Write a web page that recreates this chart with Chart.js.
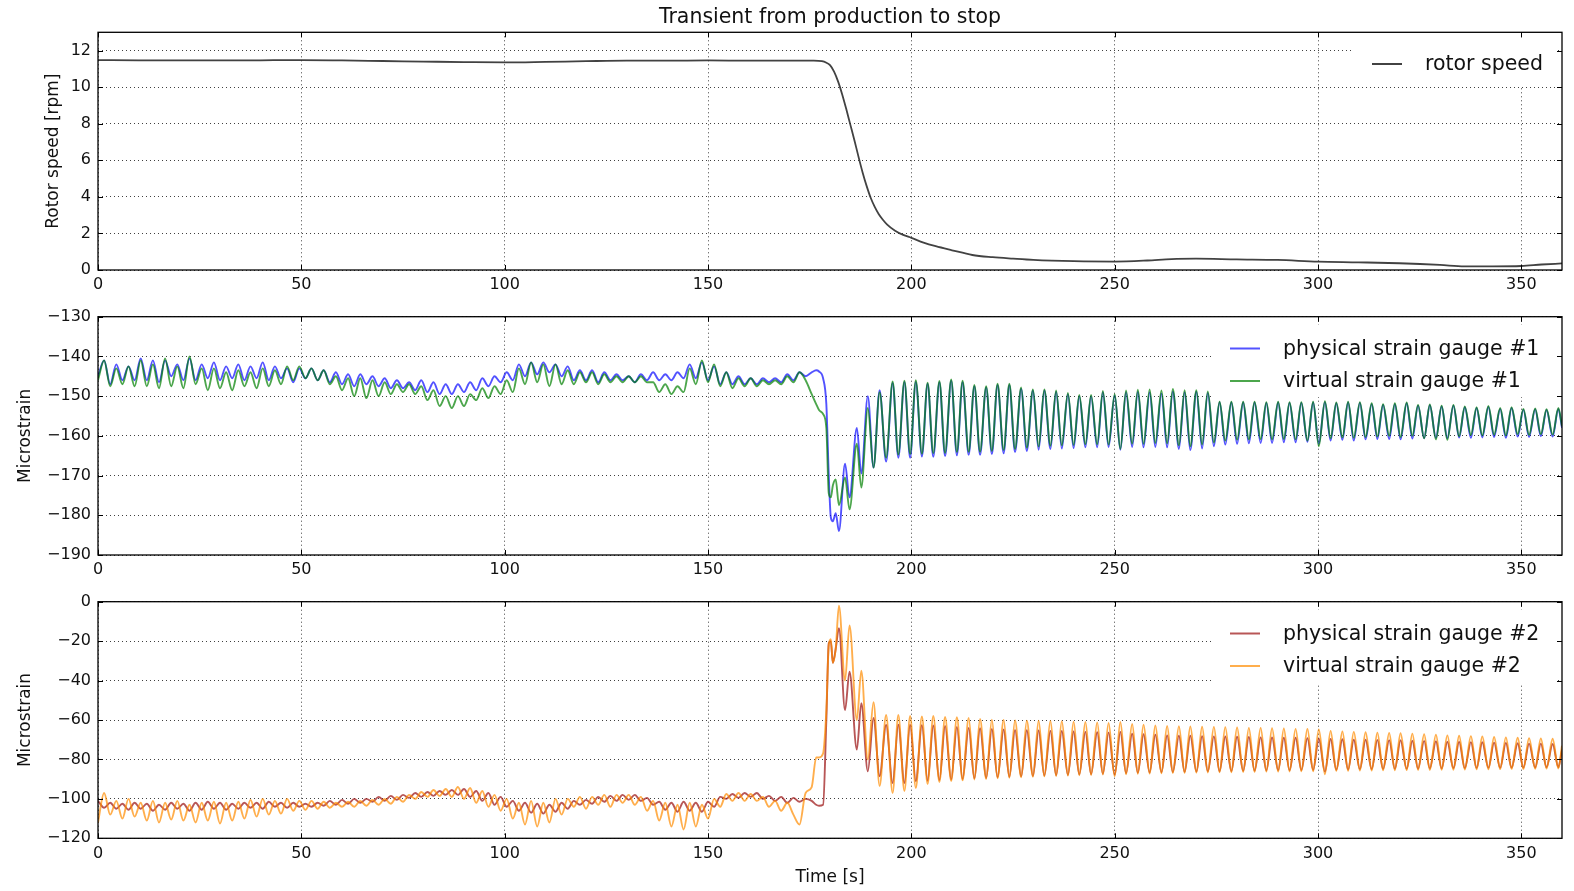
<!DOCTYPE html>
<html lang="en">
<head>
  <meta charset="UTF-8">
  <title>Transient from production to stop</title>
  <script src="https://cdn.jsdelivr.net/npm/chart.js"></script>
  <style>
    body { margin: 0; background: #fff; }
    #wrap { position: relative; width: 1574px; height: 891px; }
    #wrap canvas { position: absolute; left: 0; }
  </style>
</head>
<body>
  <div id="wrap">
    <canvas id="c1" width="1574" height="300" style="top:0"></canvas>
    <canvas id="c2" width="1574" height="285" style="top:300px"></canvas>
    <canvas id="c3" width="1574" height="306" style="top:585px"></canvas>
  </div>

  <script>
    // rotor speed [rpm]
    const tRotor = [0, 10, 20, 30, 40, 50, 60, 70, 80, 90,
      100, 110, 120, 130, 140, 150, 160, 170, 176, 178,
      179, 180, 181, 182, 183, 184, 185, 186, 187, 188,
      189, 190, 191, 192, 193, 194, 196, 198, 200, 203,
      206, 210, 215, 220, 225, 230, 240, 250, 258, 264,
      270, 280, 290, 300, 310, 320, 330, 336, 343, 350,
      355, 360];
    const rotorSpeed = [11.48, 11.47, 11.47, 11.46, 11.47, 11.48, 11.46, 11.43, 11.4, 11.37,
      11.35, 11.38, 11.42, 11.45, 11.45, 11.46, 11.45, 11.45, 11.45, 11.42,
      11.35, 11.2, 10.85, 10.3, 9.6, 8.8, 7.95, 7.1, 6.2, 5.35,
      4.6, 3.95, 3.45, 3.05, 2.75, 2.5, 2.15, 1.92, 1.76, 1.5,
      1.3, 1.08, 0.82, 0.7, 0.62, 0.55, 0.48, 0.46, 0.52, 0.6,
      0.62, 0.58, 0.55, 0.46, 0.42, 0.37, 0.28, 0.2, 0.2, 0.22,
      0.3, 0.36];

    // shared time base of the two strain panels [s]
    const tStrain = [
      0, 1.5, 3, 4.5, 6, 7.5, 9, 10.5, 12, 13.5,
      15, 16.5, 18, 19.5, 21, 22.5, 24, 25.5, 27, 28.5,
      30, 31.5, 33, 34.5, 36, 37.5, 39, 40.5, 42, 43.5,
      45, 46.5, 48, 49.5, 51, 52.5, 54, 55.5, 57, 58.5,
      60, 61.5, 63, 64.5, 66, 67.5, 69, 70.5, 72, 73.5,
      75, 76.5, 78, 79.5, 81, 82.5, 84, 85.5, 87, 88.5,
      90, 91.5, 93, 94.5, 96, 97.5, 99, 100.5, 102, 103.5,
      105, 106.5, 108, 109.5, 111, 112.5, 114, 115.5, 117, 118.5,
      120, 121.5, 123, 124.5, 126, 127.5, 129, 130.5, 132, 133.5,
      135, 136.5, 138, 139.5, 141, 142.5, 144, 145.5, 147, 148.5,
      150, 151.5, 153, 154.5, 156, 157.5, 159, 160.5, 162, 163.5,
      165, 166.5, 168, 169.5, 171, 172.5, 174,
      175.5, 176.6, 177.3, 178.3, 179.1, 179.7, 180.2, 180.7, 181.4, 182.2,
      183.7, 184.8, 186.6, 187.7, 189.3, 190.7, 192.2, 193.8,
      195.4, 196.8, 198.3, 199.7, 201.1, 202.6, 204.0, 205.4, 206.9, 208.3,
      209.8, 211.2, 212.6, 214.1, 215.5, 216.9, 218.4, 219.8, 221.2, 222.7,
      224.1, 225.5, 227.0, 228.4, 229.9, 231.3, 232.7, 234.2, 235.6, 237.0,
      238.5, 239.9, 241.3, 242.8, 244.2, 245.7, 247.1, 248.5, 250.0, 251.4,
      252.8, 254.3, 255.7, 257.1, 258.6, 260.0, 261.5, 262.9, 264.3, 265.8,
      267.2, 268.6, 270.1, 271.5, 272.9, 274.4, 275.8, 277.2, 278.7, 280.1,
      281.6, 283.0, 284.4, 285.9, 287.3, 288.7, 290.2, 291.6, 293.0, 294.5,
      295.9, 297.4, 298.8, 300.2, 301.7, 303.1, 304.5, 306.0, 307.4, 308.8,
      310.3, 311.7, 313.2, 314.6, 316.0, 317.5, 318.9, 320.3, 321.8, 323.2,
      324.6, 326.1, 327.5, 329.0, 330.4, 331.8, 333.3, 334.7, 336.1, 337.6,
      339.0, 340.4, 341.9, 343.3, 344.8, 346.2, 347.6, 349.1, 350.5, 351.9,
      353.4, 354.8, 356.2, 357.7, 359.1, 360.0];

    const phys1 = [
      -145, -141, -147, -142, -146, -142.5, -146, -140.5, -146, -141,
      -146.5, -141, -145, -142, -146, -140.5, -146, -142, -145.5, -141.5,
      -146, -142.5, -145.5, -142, -146, -142.5, -145.5, -141.5, -146, -142.5,
      -145.5, -143, -146.5, -143, -145.5, -143, -146, -143.5, -146.5, -144,
      -147, -144.5, -147.5, -144.5, -147, -145, -147.5, -145.5, -148, -146,
      -148, -146.5, -148.5, -146, -149, -146.5, -149.5, -147, -149.5, -147,
      -149, -146.5, -148.5, -145.5, -147.5, -145, -146.5, -144, -146, -142,
      -145, -141.5, -144.5, -141.5, -144, -142, -145, -142.5, -146, -143.5,
      -146, -143.5, -146.5, -144, -146, -144.5, -146, -145, -146.5, -144.5,
      -146, -144, -146, -144.5, -146, -144, -145.5, -142, -145.5, -141.5,
      -146, -142.5, -147, -144, -147, -145, -147, -145.5, -147, -145.5,
      -146.5, -145.5, -146.5, -144.5, -146, -144, -145,
      -144, -143.5, -143.8, -145.5, -152, -170, -180.5, -181.5, -179.5, -184,
      -167, -175.5, -158, -169.5, -150, -168, -148.5, -166.5,
      -146.7, -165.5, -146.4, -165.5, -146.4, -165.2, -146.9, -165.3, -146.5, -165.1,
      -146.1, -164.9, -146.5, -164.8, -147.5, -164.8, -147.8, -164.6, -147.2, -164.4,
      -147.2, -164.1, -148.1, -163.8, -148.6, -163.5, -148.6, -163.3, -148.9, -163.2,
      -149.5, -163.1, -150.0, -162.9, -150.0, -162.9, -149.0, -162.8, -149.8, -163.5,
      -149.0, -162.8, -148.9, -162.9, -149.0, -162.8, -149.3, -162.9, -148.8, -163.3,
      -149.0, -163.6, -148.9, -163.2, -149.2, -162.6, -151.5, -162.2, -151.6, -162.0,
      -151.6, -161.9, -151.6, -161.8, -151.7, -161.8, -151.6, -161.6, -151.7, -161.6,
      -151.7, -161.5, -151.6, -162.0, -151.5, -161.2, -151.8, -161.0, -151.6, -161.2,
      -151.7, -160.9, -152.0, -160.8, -152.2, -160.8, -152.0, -160.9, -151.8, -160.7,
      -152.4, -160.6, -152.3, -160.5, -152.6, -160.6, -152.4, -160.4, -152.8, -160.5,
      -153.0, -160.4, -152.7, -160.3, -153.2, -160.5, -153.0, -160.2, -153.4, -160.3,
      -153.3, -160.1, -153.5, -160.2, -153.2, -158.0];

    const virt1 = [
      -146, -141, -147.5, -143, -147, -142.5, -147.5, -141, -147.5, -142,
      -148, -140.5, -147.5, -142.5, -148, -140, -147, -143, -148.5, -143,
      -148, -144, -148.5, -143.5, -147.5, -144, -148, -143, -147.5, -143.5,
      -147, -142.5, -146, -142.5, -145.5, -143, -146, -143.5, -147, -145,
      -148.5, -145.5, -150, -145.5, -150.5, -146, -150, -146.5, -149.5, -147,
      -149, -147, -149.5, -147.5, -151, -148.5, -152.5, -150, -153, -150,
      -152.5, -149.5, -151, -148, -150.5, -147.5, -149.5, -146, -149, -143,
      -147, -141.5, -146.5, -142, -147.5, -142, -147, -143.5, -147, -144,
      -146.5, -144, -147, -144.5, -146.5, -145, -146.5, -145, -146.5, -145,
      -146.5, -146.5, -149, -147, -149.5, -147.5, -149, -143, -147, -141,
      -146.5, -142, -147.5, -144, -148, -145.5, -147.5, -145.5, -147.5, -146,
      -147, -146, -147, -145, -146.5, -144, -146,
      -149.5, -152, -153.5, -154.5, -158, -174.5, -175.5, -172.5, -171, -177.5,
      -170.5, -178.5, -162, -173, -153, -168, -149, -165.5,
      -146.3, -164.7, -146.1, -164.6, -146.0, -164.5, -146.6, -164.4, -146.2, -164.3,
      -145.8, -164.1, -146.1, -164.0, -147.2, -164.0, -147.5, -163.8, -146.9, -163.6,
      -146.9, -163.3, -147.8, -163.0, -148.3, -162.7, -148.3, -162.5, -148.6, -162.4,
      -149.2, -162.3, -149.7, -162.1, -149.7, -162.1, -148.7, -162.2, -149.5, -163.3,
      -148.6, -162.0, -148.4, -162.0, -148.3, -161.8, -148.6, -161.9, -148.2, -162.4,
      -148.5, -162.6, -148.5, -162.2, -148.8, -161.7, -151.4, -161.2, -151.4, -161.0,
      -151.4, -160.9, -151.4, -160.8, -151.5, -160.9, -151.4, -160.8, -151.5, -160.9,
      -151.5, -161.2, -151.4, -162.6, -151.3, -160.6, -151.6, -160.4, -151.4, -160.5,
      -151.5, -160.3, -151.8, -160.2, -152.0, -160.0, -151.8, -160.3, -151.6, -160.0,
      -152.2, -160.6, -152.1, -160.9, -152.4, -161.0, -152.2, -160.1, -152.6, -159.8,
      -152.8, -159.9, -152.5, -159.7, -153.0, -159.9, -152.8, -159.6, -153.2, -159.8,
      -153.1, -159.6, -153.3, -159.7, -153.0, -157.6];

    const phys2 = [
      -101, -104.5, -102, -105, -102.5, -105.5, -102, -105, -102.5, -106,
      -103, -105.5, -102, -105, -102.5, -106, -102, -105.5, -101.5, -105,
      -102, -105.5, -102.5, -105, -102, -104.5, -102, -105, -101.5, -104,
      -102, -104.5, -102, -104, -102.5, -104, -102, -103.5, -101, -103,
      -100.5, -102.5, -100, -102, -100, -101.5, -99, -101, -98.5, -100.5,
      -98, -99.5, -97, -99, -96.5, -98.5, -96, -98, -95.5, -98,
      -95, -99, -96, -101, -97, -103, -99, -104, -101, -106,
      -102, -107, -102.5, -107.5, -103, -106.5, -102, -105, -101, -103,
      -100.5, -102.5, -99, -101.5, -98.5, -101, -98, -100.5, -98, -101,
      -99.5, -103, -101.5, -105.5, -102, -106.5, -101.5, -106, -102, -106.5,
      -101.5, -104, -99, -100, -97.5, -99.5, -97, -99, -97, -100,
      -98.5, -101, -99, -102, -99.5, -101.5, -100,
      -101, -103, -103.5, -103, -60, -21, -20, -31, -24, -13.5,
      -55, -35.5, -75, -51.5, -86, -59, -88.5, -62.5,
      -92.0, -62.4, -92.0, -62.4, -91.0, -62.6, -90.8, -62.8, -90.5, -63.0,
      -90.2, -63.5, -90.0, -64.0, -89.6, -64.2, -89.4, -64.5, -89.0, -64.8,
      -88.8, -65.0, -88.6, -65.2, -88.4, -65.3, -88.2, -65.5, -88.0, -65.6,
      -87.8, -65.8, -87.6, -66.0, -87.5, -66.2, -87.3, -66.4, -87.8, -66.0,
      -87.0, -67.0, -86.8, -67.2, -86.6, -67.5, -86.5, -67.8, -86.4, -68.0,
      -86.3, -68.0, -86.2, -68.2, -86.0, -68.3, -86.0, -68.4, -85.9, -68.5,
      -85.8, -68.6, -85.7, -68.8, -85.6, -68.9, -85.5, -69.0, -85.5, -69.0,
      -85.4, -69.2, -85.3, -69.5, -86.2, -69.6, -85.2, -69.8, -85.1, -70.0,
      -85.0, -70.0, -85.0, -70.1, -84.9, -70.2, -84.8, -70.3, -84.8, -70.5,
      -84.7, -70.6, -84.6, -70.8, -84.6, -71.0, -84.5, -71.0, -84.5, -71.2,
      -84.4, -71.3, -84.3, -71.5, -84.3, -71.6, -84.2, -71.8, -84.2, -72.0,
      -84.1, -72.0, -84.0, -72.2, -84.0, -75.0];

    const virt2 = [
      -112, -97, -108, -101, -110, -100, -109, -102, -111, -101,
      -112, -102, -110.5, -101, -111, -103, -112, -102, -111, -101.5,
      -112.5, -102, -111, -101.5, -110, -100.5, -109, -100, -108, -101,
      -107.5, -100, -106, -101, -105.5, -101, -105, -101.5, -104.5, -102,
      -104, -101.5, -104, -101, -103.5, -100.5, -103, -100, -102.5, -99,
      -101.5, -98, -100, -96.5, -99, -95.5, -98.5, -95, -99, -94,
      -100, -94.5, -102, -96, -104, -98, -106, -100, -110, -102,
      -113, -101, -114, -102, -112, -100, -108, -100, -104, -99,
      -105, -99, -103, -98, -104, -98, -102, -98, -103, -99,
      -106, -101, -111, -102, -114, -103, -115.5, -102, -114, -103,
      -110, -100, -104, -97.5, -101, -97, -101, -97.5, -101, -99,
      -104, -101, -106, -102, -108, -113, -97,
      -94, -79, -79, -77, -55, -22, -19, -31, -24, -2,
      -40, -12, -60, -35, -80, -51, -93.5, -57.5,
      -97.0, -57.5, -96.0, -58.0, -94.5, -58.2, -92.5, -58.0, -91.5, -58.5,
      -91.0, -58.6, -90.6, -59.0, -90.2, -59.5, -89.9, -59.8, -89.6, -60.0,
      -89.3, -60.2, -89.0, -60.3, -88.8, -60.4, -88.6, -60.5, -88.4, -60.6,
      -88.2, -60.8, -88.0, -61.0, -87.9, -61.2, -87.7, -61.5, -88.5, -61.0,
      -87.5, -62.0, -87.3, -62.4, -87.2, -62.8, -87.0, -63.0, -86.9, -63.2,
      -86.8, -63.3, -86.7, -63.4, -86.6, -63.5, -86.5, -63.6, -86.5, -63.8,
      -86.4, -64.0, -86.3, -64.0, -86.2, -64.2, -86.2, -64.3, -86.1, -64.5,
      -86.0, -64.6, -86.0, -64.8, -87.5, -65.5, -85.8, -65.8, -85.8, -66.0,
      -85.7, -66.2, -85.6, -66.4, -85.5, -66.6, -85.5, -66.7, -85.4, -66.9,
      -85.3, -67.2, -85.3, -67.5, -85.2, -67.8, -85.2, -68.0, -85.1, -68.2,
      -85.0, -68.4, -85.0, -68.6, -84.9, -68.8, -84.8, -69.0, -84.8, -69.2,
      -84.7, -69.3, -84.6, -69.5, -84.6, -73.0];

    const xTicks = { min: 0, max: 360, step: 50 };

    const ink = '#111';
    const family = '"DejaVu Sans", sans-serif';
    const tickFont = { family, size: 16 };
    const labelFont = { family, size: 17 };
    const bigFont = '20.5px "DejaVu Sans", sans-serif';
    const gridColor = 'rgba(0,0,0,0.75)';

    // matplotlib-style frame, inward ticks, in-axes legend and title
    const mplDecor = {
      id: 'mplDecor',
      afterDatasetsDraw(chart, args, o) {
        const ctx = chart.ctx, a = chart.chartArea;
        ctx.save();
        if (o.legend) {
          const L = o.legend;
          ctx.fillStyle = '#fff';
          ctx.fillRect(L.box[0], L.box[1], L.box[2] - L.box[0], L.box[3] - L.box[1]);
          ctx.font = bigFont;
          ctx.textBaseline = 'middle';
          ctx.textAlign = 'left';
          chart.data.datasets.forEach((d, i) => {
            const y = L.rows[i];
            ctx.strokeStyle = d.borderColor;
            ctx.lineWidth = 2;
            ctx.beginPath();
            ctx.moveTo(L.line[0], y);
            ctx.lineTo(L.line[1], y);
            ctx.stroke();
            ctx.fillStyle = ink;
            ctx.fillText(d.label, L.textX, y + 1);
          });
        }
        const xs = chart.scales.x, ys = chart.scales.y;
        ctx.strokeStyle = '#000';
        ctx.lineWidth = 1;
        ctx.beginPath();
        xs.ticks.forEach(t => {
          const px = Math.round(xs.getPixelForValue(t.value)) + 0.5;
          ctx.moveTo(px, a.bottom); ctx.lineTo(px, a.bottom - 5);
          ctx.moveTo(px, a.top); ctx.lineTo(px, a.top + 5);
        });
        ys.ticks.forEach(t => {
          const py = Math.round(ys.getPixelForValue(t.value)) + 0.5;
          ctx.moveTo(a.left, py); ctx.lineTo(a.left + 5, py);
          ctx.moveTo(a.right, py); ctx.lineTo(a.right - 5, py);
        });
        ctx.stroke();
        ctx.lineWidth = 1.3;
        ctx.strokeRect(a.left, a.top, a.right - a.left, a.bottom - a.top);
        if (o.title) {
          ctx.font = bigFont;
          ctx.fillStyle = ink;
          ctx.textAlign = 'center';
          ctx.textBaseline = 'middle';
          ctx.fillText(o.title, (a.left + a.right) / 2, 18);
        }
        ctx.restore();
      }
    };

    // order: lower value is drawn on top, so the virtual gauges sit above the physical ones
    function series(label, ts, vs, color, width, order) {
      return {
        label,
        data: ts.map((t, i) => ({ x: t, y: vs[i] })),
        borderColor: color,
        borderWidth: width,
        pointRadius: 0,
        cubicInterpolationMode: 'monotone',
        fill: false,
        order
      };
    }

    function panel(id, datasets, o) {
      return new Chart(document.getElementById(id), {
        type: 'line',
        data: { datasets },
        options: {
          responsive: false,
          animation: false,
          devicePixelRatio: 1,
          layout: { padding: { top: o.padTop, right: 12, left: 0, bottom: 0 } },
          plugins: { legend: { display: false }, tooltip: { enabled: false }, mplDecor: o.decor },
          scales: {
            x: {
              type: 'linear', min: xTicks.min, max: xTicks.max,
              afterFit: s => { s.height = o.xHeight; },
              ticks: { stepSize: xTicks.step, includeBounds: false, padding: 5.5, maxRotation: 0, autoSkip: false, font: tickFont, color: ink },
              grid: { color: gridColor, lineWidth: 1, drawTicks: false },
              border: { display: false, dash: [1, 3] },
              title: o.xTitle
                ? { display: true, text: o.xTitle, font: labelFont, color: ink, padding: { top: 0, bottom: 3 } }
                : { display: false }
            },
            y: {
              min: o.ymin, max: o.ymax,
              afterFit: s => { s.width = 98; },
              ticks: { stepSize: o.step, includeBounds: false, padding: 7, font: tickFont, color: ink,
                       callback: v => String(v).replace('-', '\u2212') },
              grid: { color: gridColor, lineWidth: 1, drawTicks: false },
              border: { display: false, dash: [1, 3] },
              title: { display: true, text: o.yTitle, font: labelFont, color: ink, padding: { top: o.yTitlePad, bottom: 0 } }
            }
          }
        },
        plugins: [mplDecor]
      });
    }

    panel('c1', [
      series('rotor speed', tRotor, rotorSpeed, 'rgba(45,45,45,0.9)', 1.8, 0)
    ], {
      padTop: 32.3, xHeight: 30, ymin: 0, ymax: 13, step: 2,
      yTitle: 'Rotor speed [rpm]', yTitlePad: 43.8,
      decor: {
        title: 'Transient from production to stop',
        legend: { box: [1353, 39, 1556, 87], rows: [64], line: [1372, 1402], textX: 1425 }
      }
    });

    panel('c2', [
      series('physical strain gauge #1', tStrain, phys1, 'rgba(0,0,255,0.68)', 1.9, 1),
      series('virtual strain gauge #1', tStrain, virt1, 'rgba(0,128,0,0.7)', 1.9, 0)
    ], {
      padTop: 16.7, xHeight: 30, ymin: -190, ymax: -130, step: 10,
      yTitle: 'Microstrain', yTitlePad: 15.8,
      decor: { legend: { box: [1213, 25, 1556, 97], rows: [48.5, 81], line: [1230, 1260], textX: 1283 } }
    });

    panel('c3', [
      series('physical strain gauge #2', tStrain, phys2, 'rgba(160,30,30,0.75)', 1.9, 1),
      series('virtual strain gauge #2', tStrain, virt2, 'rgba(255,140,0,0.7)', 1.9, 0)
    ], {
      padTop: 16.7, xHeight: 52.7, ymin: -120, ymax: 0, step: 20,
      yTitle: 'Microstrain', yTitlePad: 15.8, xTitle: 'Time [s]',
      decor: { legend: { box: [1213, 25, 1556, 100], rows: [48.5, 81], line: [1230, 1260], textX: 1283 } }
    });
  </script>
</body>
</html>
